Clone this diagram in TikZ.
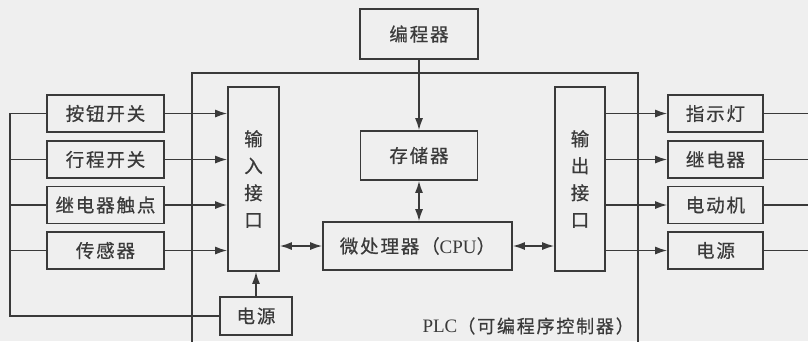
\documentclass[tikz,border=0pt]{standalone}
\usepackage{fontspec}
\setmainfont{Liberation Serif}
\newfontfamily\cjk[LetterSpace=10,FakeBold=0.6]{Noto Sans CJK SC}
\usetikzlibrary{arrows.meta}
\definecolor{ink}{HTML}{3A3A3A}
\definecolor{paper}{HTML}{EFEFEF}
\tikzset{
  box/.style={draw=ink, line width=1.6pt, inner sep=0pt, font=\cjk\fontsize{18.5}{27}\selectfont, text=ink, align=center},
  conn/.style={draw=ink, line width=1.6pt},
  arr/.style={conn, -{Latex[length=12pt,width=8pt]}},
  darr/.style={conn, {Latex[length=12pt,width=8pt]}-{Latex[length=12pt,width=8pt]}},
  plc/.style={draw=ink, line width=2.8pt}
}
\begin{document}
\begin{tikzpicture}[x=1pt,y=-1pt]
\useasboundingbox (0,0) rectangle (808,341);
\fill[paper] (0,0) rectangle (808,341);
\begin{scope}
\clip (0,0) rectangle (808,341);
% PLC enclosure
\draw[plc] (192,350) -- (192,73) -- (638,73) -- (638,350);
% left boxes
\node[box, minimum width=117pt, minimum height=37pt] (b1) at (105.5,113.5) {按钮开关};
\node[box, minimum width=117pt, minimum height=37pt] (b2) at (105.5,159.5) {行程开关};
\node[box, minimum width=117pt, minimum height=37pt] (b3) at (105.5,205) {继电器触点};
\node[box, minimum width=117pt, minimum height=37pt] (b4) at (105.5,250.5) {传感器};
% input interface
\node[box, minimum width=51pt, minimum height=184pt] (in) at (253.5,179) {输\\入\\接\\口};
\node[box, minimum width=72pt, minimum height=38pt] (pw1) at (256,316) {电源};
% centre
\node[box, minimum width=118pt, minimum height=50pt] (prog) at (419,34) {编程器};
\node[box, minimum width=117pt, minimum height=49pt] (mem) at (419,155.5) {存储器};
\node[box, minimum width=189pt, minimum height=48pt] (cpu) at (417.5,246) {微处理器（{\rmfamily\fontsize{19}{20}\selectfont CPU}）};
% output interface
\node[box, minimum width=50pt, minimum height=184pt] (out) at (580,179) {输\\出\\接\\口};
% right boxes
\node[box, minimum width=95pt, minimum height=37pt] (o1) at (715.5,113.5) {指示灯};
\node[box, minimum width=95pt, minimum height=37pt] (o2) at (715.5,159.5) {继电器};
\node[box, minimum width=95pt, minimum height=37pt] (o3) at (715.5,205) {电动机};
\node[box, minimum width=95pt, minimum height=37pt] (o4) at (715.5,250.5) {电源};
% label
\node[font=\cjk\fontsize{18}{20}\selectfont, text=ink, anchor=east, inner sep=0pt] (lbl) at (634,326) {{\rmfamily\fontsize{19}{20}\selectfont PLC}（可编程序控制器）};
% coordinates
\coordinate (bl) at (10,0);
\coordinate (br) at (812,0);
% left bus
\draw[conn] (b1.west) -| (bl |- pw1.west) -- (pw1.west);
\draw[conn] (b2.west) -- (b2.west -| bl);
\draw[conn] (b3.west) -- (b3.west -| bl);
\draw[conn] (b4.west) -- (b4.west -| bl);
% inputs
\draw[arr] (b1.east) -- (b1.east -| in.west);
\draw[arr] (b2.east) -- (b2.east -| in.west);
\draw[arr] (b3.east) -- (b3.east -| in.west);
\draw[arr] (b4.east) -- (b4.east -| in.west);
\draw[arr] (pw1.north) -- (pw1.north |- in.south);
% centre
\draw[arr] (prog.south) -- (mem.north);
\draw[darr] (mem.south) -- (mem.south |- cpu.north);
\draw[darr] (cpu.west -| in.east) -- (cpu.west);
\draw[darr] (cpu.east) -- (cpu.east -| out.west);
% outputs
\draw[arr] (o1.west -| out.east) -- (o1.west);
\draw[arr] (o2.west -| out.east) -- (o2.west);
\draw[arr] (o3.west -| out.east) -- (o3.west);
\draw[arr] (o4.west -| out.east) -- (o4.west);
\draw[conn] (o1.east) -- (o1.east -| br);
\draw[conn] (o2.east) -- (o2.east -| br);
\draw[conn] (o3.east) -- (o3.east -| br);
\draw[conn] (o4.east) -- (o4.east -| br);
\end{scope}
\end{tikzpicture}
\end{document}
